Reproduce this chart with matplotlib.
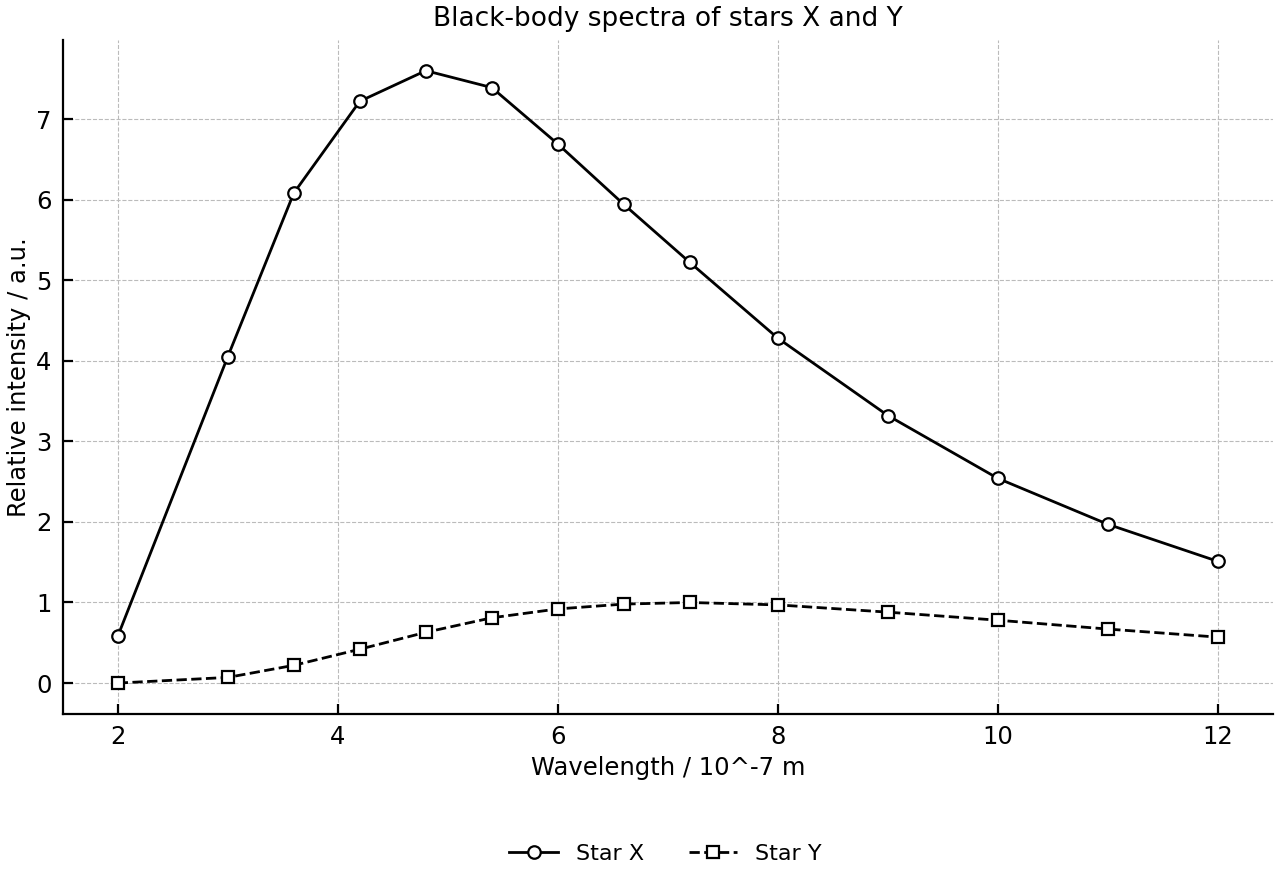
import matplotlib
matplotlib.use("Agg")
import matplotlib.pyplot as plt

wavelength = [2, 3, 3.6, 4.2, 4.8, 5.4, 6, 6.6, 7.2, 8, 9, 10, 11, 12]
star_x = [0.58, 4.05, 6.08, 7.22, 7.60, 7.39, 6.69, 5.94, 5.22, 4.28, 3.32, 2.54, 1.97, 1.51]
star_y = [0.00, 0.07, 0.22, 0.42, 0.63, 0.81, 0.92, 0.98, 1.00, 0.97, 0.88, 0.78, 0.67, 0.57]

fig = plt.figure(figsize=(12.8, 8.8), dpi=100)
ax = fig.add_axes([0.049, 0.189, 0.9455, 0.7655])

ax.plot(wavelength, star_x, color="black", lw=2, marker="o", ms=9,
        mfc="white", mec="black", mew=1.6, label="Star X", zorder=3)
ax.plot(wavelength, star_y, color="black", lw=2, ls="--", marker="s", ms=9,
        mfc="white", mec="black", mew=1.6, label="Star Y", zorder=3)

ax.grid(True, ls="--", color="#bbbbbb", lw=0.8)
ax.set_axisbelow(True)
for s in ["top", "right"]:
    ax.spines[s].set_visible(False)
for s in ["left", "bottom"]:
    ax.spines[s].set_linewidth(1.6)
ax.tick_params(direction="in", labelsize=17.5, width=1.6, length=7, pad=8)
ax.set_xticks([2, 4, 6, 8, 10, 12])
ax.set_yticks([0, 1, 2, 3, 4, 5, 6, 7])

ax.set_xlabel("Wavelength / 10^-7 m", fontsize=17.5, labelpad=5)
ax.set_ylabel("Relative intensity / a.u.", fontsize=17.5, labelpad=4)
ax.set_title("Black-body spectra of stars X and Y", fontsize=19, pad=10)

fig.legend(loc="center", bbox_to_anchor=(0.52, 0.03), ncol=2, frameon=False,
           fontsize=16, columnspacing=2.0, handlelength=2.2)

fig.savefig("out.png", dpi=100)
